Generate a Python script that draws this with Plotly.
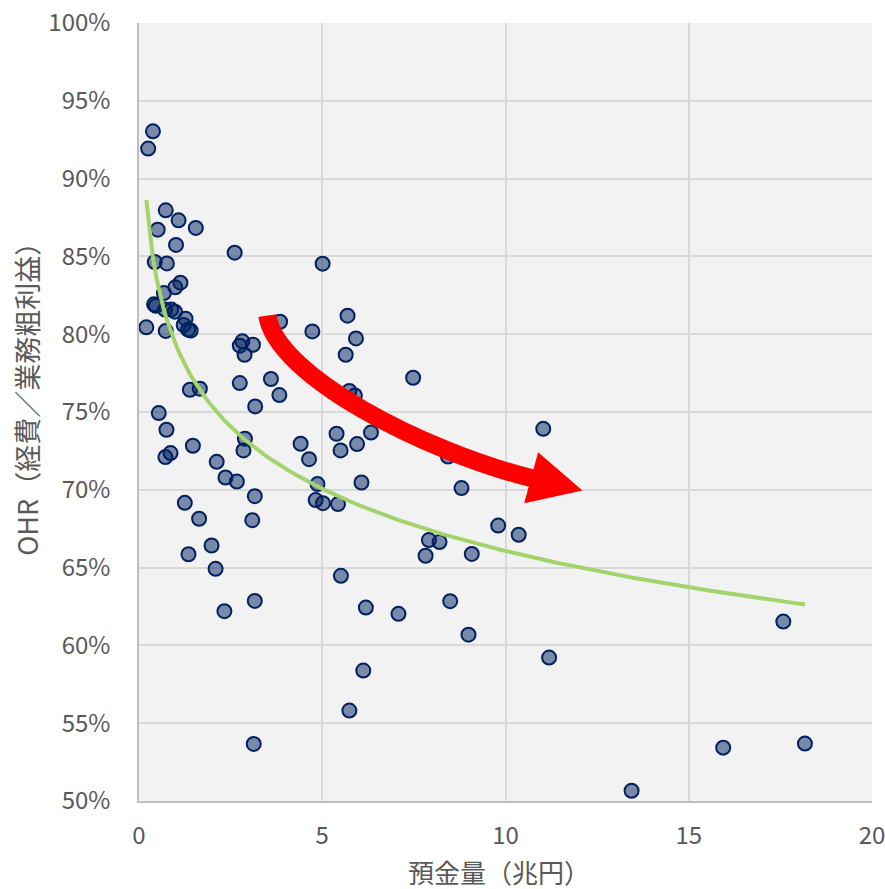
import numpy as np
import plotly.graph_objects as go

# Deposits (trillion yen)
deposits = [0.38, 0.25, 0.73, 1.08, 0.51, 1.55, 1.01, 2.61, 0.43, 0.76,
            5.01, 1.13, 0.99, 0.68, 0.41, 0.46, 0.71, 0.88, 0.98, 1.27,
            1.22, 1.34, 1.41, 0.20, 0.73, 3.85, 4.73, 5.69, 5.92, 5.64,
            2.82, 2.75, 3.11, 2.88, 1.39, 1.66, 2.75, 3.60, 3.83, 3.17,
            0.54, 0.75, 1.47, 0.86, 0.72, 2.89, 2.85, 2.12, 2.36, 2.67,
            4.41, 4.64, 4.87, 4.82, 5.02, 5.43, 3.16, 1.25, 1.64, 3.09,
            1.98, 1.35, 2.09, 3.16, 2.33, 5.39, 6.33, 5.95, 5.50, 6.07,
            7.48, 5.74, 5.89, 8.43, 8.80, 11.03, 9.80, 10.36, 7.91, 8.20,
            7.82, 9.08, 5.51, 6.19, 7.08, 8.49, 8.99, 6.12, 5.74, 3.13,
            11.19, 17.58, 15.94, 18.17, 13.44]

# OHR (%)
ohr_pct = [93.04, 91.93, 87.96, 87.32, 86.72, 86.83, 85.74, 85.24, 84.64, 84.55,
           84.53, 83.31, 83.01, 82.65, 81.92, 81.83, 81.58, 81.58, 81.45, 81.00,
           80.59, 80.29, 80.23, 80.44, 80.21, 80.80, 80.18, 81.19, 79.73, 78.68,
           79.54, 79.26, 79.32, 78.68, 76.43, 76.50, 76.86, 77.12, 76.09, 75.36,
           74.93, 73.86, 72.83, 72.36, 72.10, 73.28, 72.53, 71.80, 70.79, 70.53,
           72.96, 71.97, 70.37, 69.34, 69.14, 69.08, 69.59, 69.16, 68.14, 68.05,
           66.42, 65.86, 64.92, 62.86, 62.20, 73.60, 73.68, 72.94, 72.53, 70.47,
           77.20, 76.35, 76.06, 72.14, 70.11, 73.92, 67.70, 67.11, 66.77, 66.64,
           65.76, 65.88, 64.47, 62.43, 62.03, 62.84, 60.69, 58.38, 55.81, 53.67,
           59.22, 61.53, 53.43, 53.69, 50.66]

x_ticks = [0, 5, 10, 15, 20]
y_ticks = [0.50, 0.55, 0.60, 0.65, 0.70, 0.75, 0.80, 0.85, 0.90, 0.95, 1.00]

x_title = "預金量（兆円）"
y_title = "OHR（経費／業務粗利益）"

ohr = [v / 100 for v in ohr_pct]

# Logarithmic trendline fitted to the data (as in a spreadsheet trendline)
xa = np.array(deposits)
ya = np.array(ohr)
a, b = np.polyfit(np.log(xa), ya, 1)
tx = np.linspace(xa.min(), xa.max(), 200)
ty = a * np.log(tx) + b

fig = go.Figure()
fig.add_trace(go.Scatter(
    x=deposits, y=ohr, mode="markers",
    marker=dict(size=14, color="rgba(0,32,96,0.5)",
                line=dict(color="#002060", width=2)),
    showlegend=False, hoverinfo="x+y"))
fig.add_trace(go.Scatter(
    x=tx, y=ty, mode="lines",
    line=dict(color="#a2d36c", width=4),
    showlegend=False, hoverinfo="skip"))

# Red curved arrow (decoration), in data coordinates
arrow_shaft = "M 3.50,0.8119 C 3.745,0.7733 7.778,0.7247 10.75,0.7072"
arrow_head = "M 10.89,0.7242 L 12.10,0.6995 L 10.51,0.6914 Z"
fig.add_shape(type="path", path=arrow_shaft, xref="x", yref="y",
              line=dict(color="#ff0000", width=18), layer="above")
fig.add_shape(type="path", path=arrow_head, xref="x", yref="y",
              line=dict(color="#ff0000", width=0), fillcolor="#ff0000",
              layer="above")

fig.add_annotation(text=x_title, xref="paper", yref="paper",
                   x=0.491, y=-0.09, xanchor="center", yanchor="middle",
                   showarrow=False,
                   font=dict(family="Noto Sans CJK JP", size=26, color="#595959"))
fig.add_annotation(text=y_title, xref="paper", yref="paper",
                   x=-0.154, y=0.525, xanchor="center", yanchor="middle",
                   textangle=-90, showarrow=False,
                   font=dict(family="Noto Sans CJK JP", size=27, color="#595959"))

tick_font = dict(family="Noto Sans CJK JP", size=24, color="#595959")
fig.update_layout(
    width=885, height=889,
    margin=dict(l=139, r=13, t=23, b=88, autoexpand=False),
    paper_bgcolor="white", plot_bgcolor="#f2f2f2",
    font=dict(family="Noto Sans CJK JP", color="#595959"),
    xaxis=dict(range=[0, 20], tickvals=x_ticks, showgrid=True,
               gridcolor="#d9d9d9", gridwidth=1.5,
               showline=True, linecolor="#bfbfbf", linewidth=1.5,
               zeroline=False, tickfont=tick_font, automargin=False,
               ticklabelstandoff=12, ticklabeloverflow="allow"),
    yaxis=dict(range=[0.5, 1.0], tickvals=y_ticks, tickformat=".0%",
               showgrid=True, gridcolor="#d9d9d9", gridwidth=1.5,
               showline=True, linecolor="#bfbfbf", linewidth=1.5,
               zeroline=False, tickfont=tick_font, automargin=False,
               ticklabelstandoff=22, ticklabeloverflow="allow"),
)

fig.write_html("out.html",
               config={"displayModeBar": False},
               post_script="document.body.style.margin='0';"
                           "document.body.style.overflow='hidden';")
